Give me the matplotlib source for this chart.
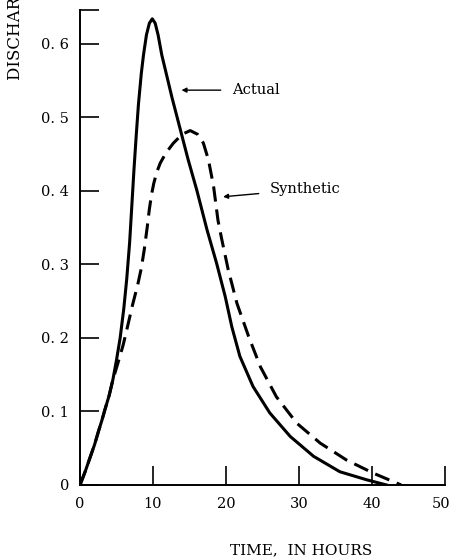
import matplotlib.pyplot as plt
import matplotlib.transforms as mtransforms

# hydrograph readings: time (hours) vs discharge
actual_t = [0, 0.7, 1.4, 2.0, 2.5, 3.0, 3.4, 4.0, 4.5, 5.0, 5.5, 6.0, 6.4, 6.8,
            7.1, 7.4, 7.7, 8.0, 8.4, 8.7, 9.1, 9.5, 9.9, 10.3, 10.7, 11.2, 11.9,
            12.6, 13.7, 14.8, 16.0, 17.4, 18.7, 19.9, 20.8, 21.9, 23.7, 26.0,
            28.8, 32.0, 35.6, 39.3, 42.0]
actual_q = [0, 0.018, 0.038, 0.055, 0.072, 0.088, 0.102, 0.122, 0.143, 0.17, 0.2,
            0.24, 0.28, 0.33, 0.38, 0.43, 0.475, 0.517, 0.56, 0.585, 0.612, 0.628,
            0.634, 0.628, 0.612, 0.585, 0.556, 0.527, 0.485, 0.443, 0.401, 0.347,
            0.302, 0.256, 0.215, 0.175, 0.134, 0.098, 0.066, 0.039, 0.018, 0.007, 0]

synth_t = [0, 0.7, 1.4, 2.0, 2.5, 3.0, 3.4, 4.0, 4.5, 5.2, 5.9, 6.5, 7.2, 7.9,
           8.4, 8.8, 9.2, 9.5, 9.8, 10.1, 10.5, 11.0, 11.8, 12.8, 14.0, 15.1,
           16.1, 16.9, 17.6, 18.3, 18.9, 19.4, 20.3, 21.5, 23.1, 24.7, 26.9,
           29.7, 32.9, 36.5, 40.2, 44.0]
synth_q = [0, 0.018, 0.038, 0.055, 0.072, 0.088, 0.102, 0.122, 0.143, 0.166, 0.19,
           0.215, 0.245, 0.272, 0.295, 0.32, 0.35, 0.375, 0.395, 0.41, 0.425,
           0.438, 0.452, 0.465, 0.477, 0.482, 0.477, 0.465, 0.442, 0.406, 0.36,
           0.335, 0.293, 0.247, 0.202, 0.161, 0.12, 0.084, 0.057, 0.034, 0.016, 0]

x_ticks = [0, 10, 20, 30, 40, 50]
y_ticks = [0, 0.1, 0.2, 0.3, 0.4, 0.5, 0.6]
y_labels = ['0', '0. 1', '0. 2', '0. 3', '0. 4', '0. 5', '0. 6']

plt.rcParams['font.family'] = ['DejaVu Serif']

fig = plt.figure(figsize=(4.52, 5.57), dpi=100)
ax = fig.add_axes([80 / 452, 1 - 485 / 557, 365 / 452, 475 / 557])

ax.plot(actual_t, actual_q, color='black', lw=2.2, solid_joinstyle='round')
ax.plot(synth_t, synth_q, color='black', lw=2.2, dashes=(5, 2.6))

ax.set_xlim(0, 50)
ax.set_ylim(0, 0.646)
ax.spines['top'].set_visible(False)
ax.spines['right'].set_visible(False)
for s in ('left', 'bottom'):
    ax.spines[s].set_linewidth(1.4)

ax.set_xticks(x_ticks)
ax.set_xticklabels([str(t) for t in x_ticks])
ax.set_yticks(y_ticks + [0.646])
ax.set_yticklabels(y_labels + [''])
ax.tick_params(direction='in', length=14, width=1.2, labelsize=10.5, color='black')
ax.tick_params(axis='x', pad=9)
ax.tick_params(axis='y', pad=8)

# nudge the last x label so it stays inside the figure
last = ax.get_xticklabels()[-1]
last.set_transform(last.get_transform() +
                   mtransforms.ScaledTranslation(-4 / 100, 0, fig.dpi_scale_trans))

arrow = dict(arrowstyle='-|>', color='black', lw=1.0, mutation_scale=7,
             shrinkA=6, shrinkB=0)
ax.annotate('Actual', xy=(13.9, 0.537), xytext=(20.8, 0.537),
            fontsize=10.5, va='center', ha='left', arrowprops=arrow)
ax.annotate('Synthetic', xy=(19.6, 0.392), xytext=(26.0, 0.402),
            fontsize=10.5, va='center', ha='left', arrowprops=arrow)

ax.set_xlabel('TIME,  IN HOURS', fontsize=11)
ax.xaxis.set_label_coords(301 / 452, 1 - 543 / 557, transform=fig.transFigure)
fig.text(15 / 452, 1 - 80 / 557, 'DISCHARGE, IN INCHES PER HOUR', rotation=90,
         ha='center', va='bottom', fontsize=12)

fig.savefig('out.png', dpi=100)
